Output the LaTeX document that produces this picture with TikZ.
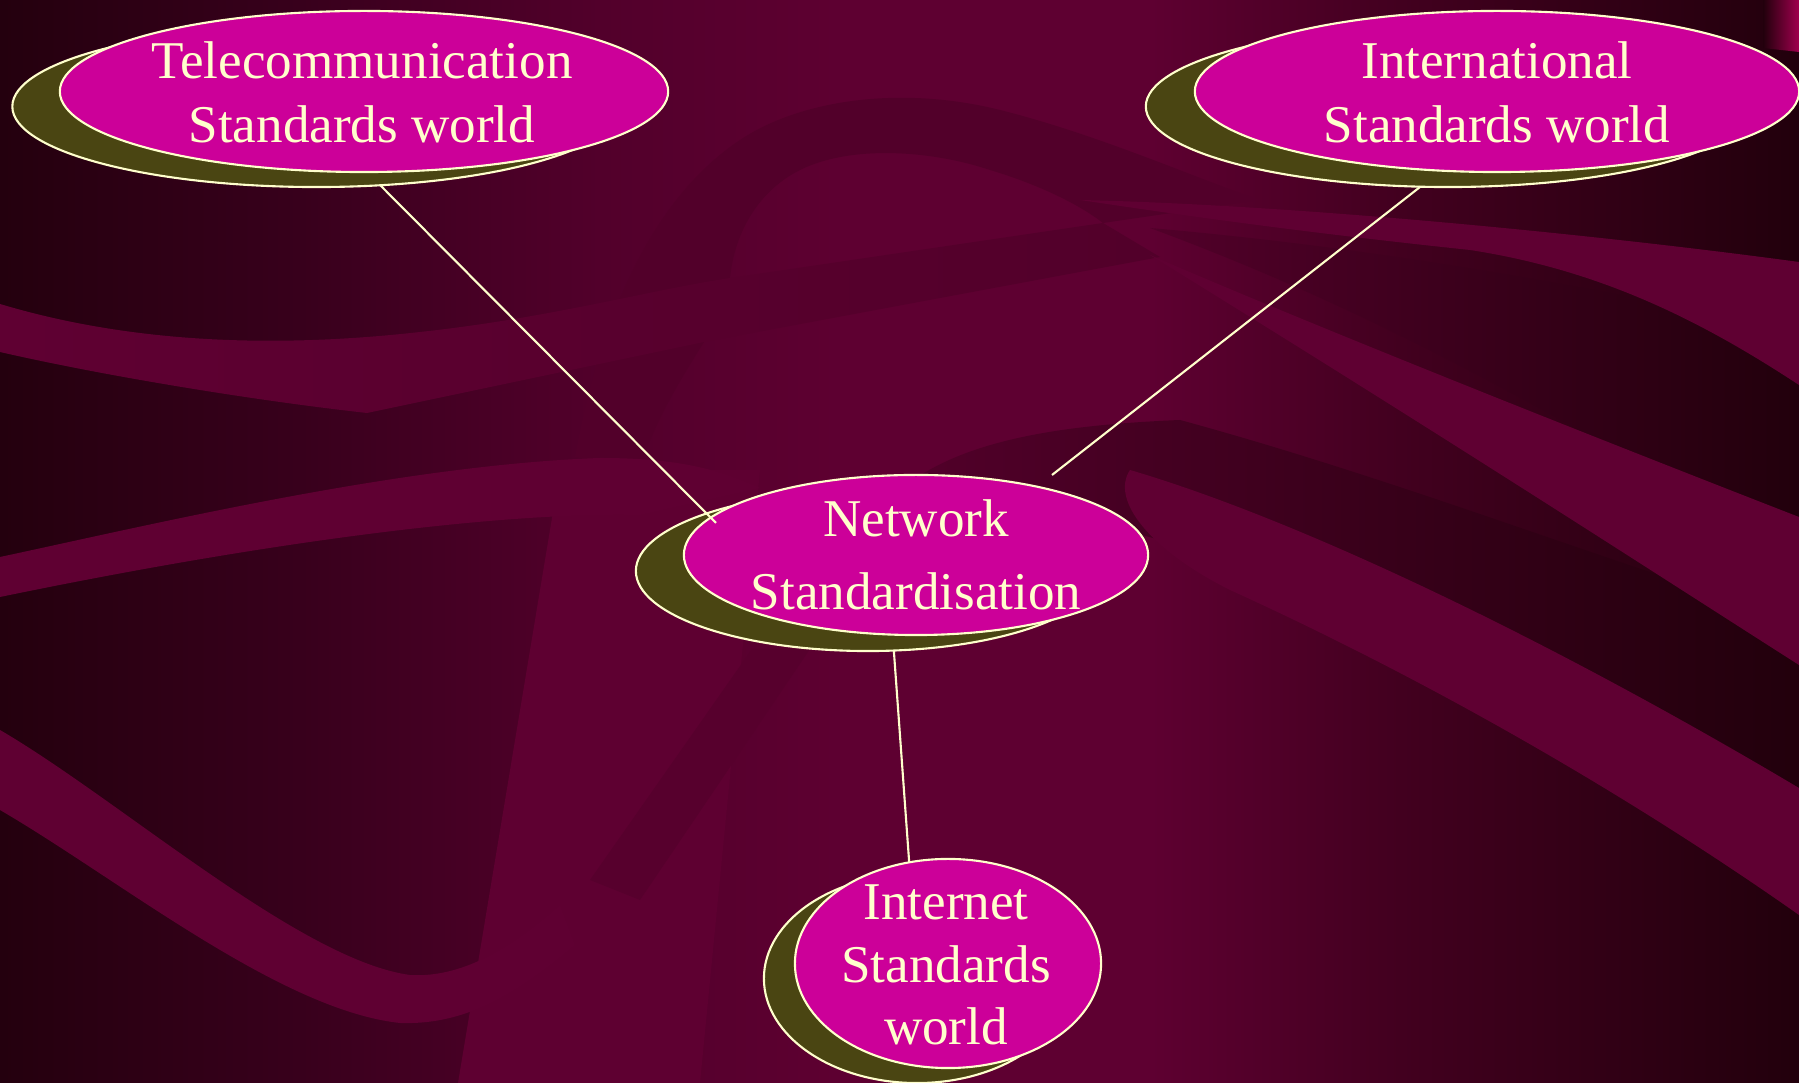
\documentclass[tikz,border=0pt]{standalone}
\usepackage{fontspec}
\setmainfont{Liberation Serif}
\usetikzlibrary{shapes.geometric}
\definecolor{cream}{HTML}{FFFFCC}
\definecolor{pinkfill}{HTML}{CC0099}
\definecolor{olivefill}{HTML}{4A4512}
\definecolor{bandc}{HTML}{5F0032}
\definecolor{darkc}{HTML}{52002A}
\definecolor{midc}{HTML}{57002D}
\definecolor{stripc}{HTML}{3E001E}
\definecolor{corner}{HTML}{A0004E}
\definecolor{bgA}{HTML}{24000E}
\definecolor{bgB}{HTML}{38001C}
\definecolor{bgC}{HTML}{52002B}
\definecolor{bgD}{HTML}{5E0031}
\definecolor{bgE}{HTML}{42001F}
\definecolor{bgF}{HTML}{22000C}
\pgfdeclarehorizontalshading{bgshade}{100bp}{color(0bp)=(bgA); color(25bp)=(bgA); color(33.34bp)=(bgB); color(41.68bp)=(bgC); color(48.62bp)=(bgD); color(56.96bp)=(bgD); color(63.91bp)=(bgE); color(75bp)=(bgF); color(100bp)=(bgF)}
\tikzset{
  shadowell/.style={ellipse, draw=cream, line width=0.6pt, fill=olivefill, inner sep=0pt, outer sep=0pt},
  frontell/.style={ellipse, draw=cream, line width=0.6pt, fill=pinkfill, inner sep=0pt, outer sep=0pt},
  txt/.style={anchor=base, align=center, text=cream, inner sep=0pt, font=\fontsize{15.1}{18.2}\selectfont},
  link/.style={draw=cream, line width=0.6pt},
  band/.style={fill=bandc},
  darkband/.style={fill=darkc}
}
\begin{document}
\begin{tikzpicture}[x=0.01cm, y=-0.01cm]
\clip (0,0) rectangle (1799,1083);
% background
\shade[shading=bgshade] (0,0) rectangle (1799,1083);
% light vertical strip in the lower centre
\fill[fill=bgD] (560,470) -- (760,470) -- (700,1083) -- (458,1083) -- cycle;
% dark arch at the top centre
\fill[darkband] (575,457) .. controls (600,320) and (650,200) .. (740,140) .. controls (800,100) and (900,85) .. (1000,110) .. controls (1100,135) and (1200,180) .. (1260,200) -- (1103,223) .. controls (1080,205) and (1040,185) .. (990,170) .. controls (930,150) and (850,145) .. (800,170) .. controls (760,190) and (735,230) .. (730,278) -- (704,342) .. controls (680,380) and (650,430) .. (640,470) -- cycle;
% dark stripes on the right
\shade[left color=darkc, right color=bgF] (900,490) .. controls (960,440) and (1060,425) .. (1180,420) .. controls (1400,480) and (1600,560) .. (1799,620) -- (1799,830) .. controls (1500,660) and (1300,570) .. (1100,525) .. controls (1000,505) and (950,500) .. (900,490) -- cycle;
\shade[left color=darkc, right color=bgF] (1150,228) .. controls (1400,250) and (1600,290) .. (1799,330) -- (1799,560) .. controls (1600,440) and (1400,320) .. (1150,228) -- cycle;
\fill[midc] (752,649) -- (810,649) -- (640,900) -- (590,880) -- cycle;
% left bands
\shade[left color=bandc, right color=darkc] (0,304) .. controls (120,340) and (260,350) .. (420,332) .. controls (550,318) and (650,290) .. (730,278) -- (1103,223) -- (1160,257) -- (704,342) -- (367,413) .. controls (250,400) and (100,375) .. (0,352) -- cycle;
\fill[band] (0,557) .. controls (150,525) and (400,465) .. (600,458) .. controls (680,458) and (720,470) .. (760,488) -- (640,515) .. controls (520,512) and (300,535) .. (0,597) -- cycle;
\fill[band] (0,730) .. controls (120,800) and (300,960) .. (410,975) .. controls (460,978) and (510,950) .. (560,905) -- (575,945) .. controls (510,1000) and (460,1025) .. (400,1023) .. controls (280,1010) and (120,880) .. (0,810) -- cycle;
% right bands
\fill[band] (1080,200) .. controls (1300,205) and (1600,235) .. (1799,262) -- (1799,385) .. controls (1700,320) and (1600,270) .. (1470,250) .. controls (1300,232) and (1180,215) .. (1080,200) -- cycle;
\fill[band] (1150,255) .. controls (1300,320) and (1550,420) .. (1799,517) -- (1799,665) .. controls (1650,570) and (1450,440) .. (1150,255) -- cycle;
\fill[band] (1130,470) .. controls (1300,520) and (1550,640) .. (1799,788) -- (1799,915) .. controls (1650,810) and (1450,690) .. (1230,590) .. controls (1150,550) and (1110,500) .. (1130,470) -- cycle;
% top-right corner
\shade[left color=bgF, right color=corner] (1763,0) -- (1799,0) -- (1799,52) -- (1763,48) -- cycle;
% ellipses
\node[shadowell, minimum width=6.08cm, minimum height=1.61cm] (telsh) at (316.5,106.5) {};
\node[frontell, minimum width=6.08cm, minimum height=1.61cm] (tel) at (364,91.5) {};
\node[shadowell, minimum width=6.04cm, minimum height=1.61cm] (intlsh) at (1448,106.5) {};
\node[frontell, minimum width=6.04cm, minimum height=1.61cm] (intl) at (1497,91.5) {};
\node[shadowell, minimum width=4.64cm, minimum height=1.60cm] (netsh) at (868,571) {};
\node[frontell, minimum width=4.64cm, minimum height=1.60cm] (net) at (916,555) {};
\node[shadowell, minimum width=3.06cm, minimum height=2.09cm] (intsh) at (917,978.5) {};
\node[frontell, minimum width=3.06cm, minimum height=2.09cm] (int) at (948,963.5) {};
% texts (anchor=base is the baseline of the last line)
\node[txt] (teltxt) at (362,143) {Telecommunication\\Standards world};
\node[txt] (intltxt) at (1497,143) {International\\Standards world};
\node[txt, font=\fontsize{15.1}{20.85}\selectfont] (nettxt) at (916,610) {Network\\Standardisation};
\node[txt, font=\fontsize{15.1}{17.9}\selectfont] (inttxt) at (946,1045) {Internet\\Standards\\world};
% connectors
\coordinate (c1) at (716,523);
\coordinate (c2) at (1052,475);
\draw[link] (telsh.-51.7) -- (c1);
\draw[link] (intlsh.-109.3) -- (c2);
\draw[link] (netsh.-72.8) -- (int.111.1);
\end{tikzpicture}
\end{document}
